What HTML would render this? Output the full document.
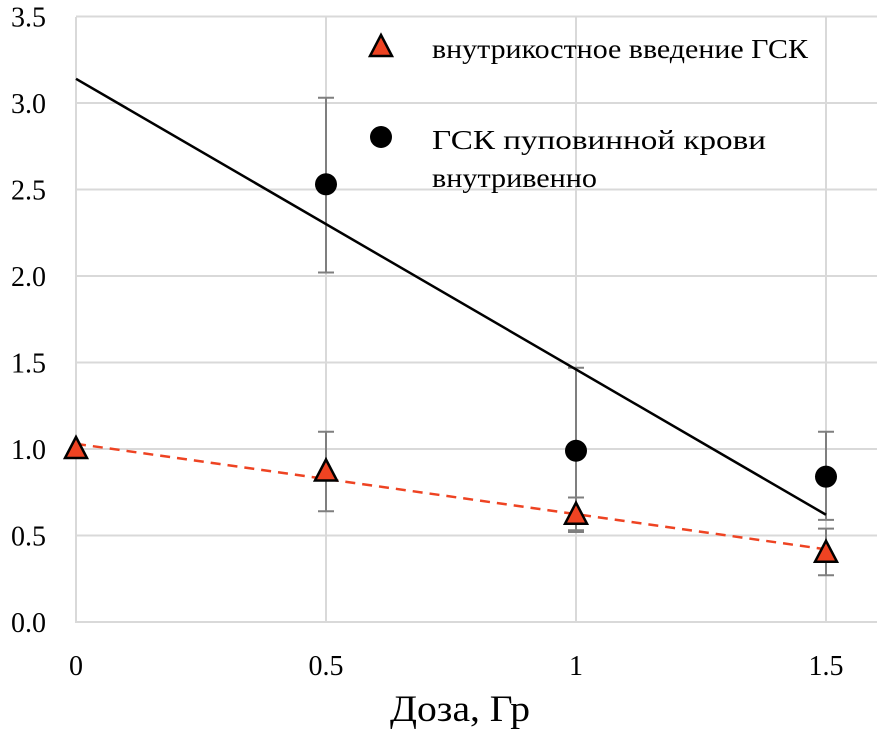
<!DOCTYPE html>
<html><head><meta charset="utf-8"><style>
body{margin:0;background:#fff}
svg{display:block}
text{font-family:"Liberation Serif","DejaVu Serif",serif}
</style></head><body>
<svg id="chart" width="887" height="729"></svg>
<script>
const xTicks=[0,0.5,1,1.5];
const xTickLabels=["0","0.5","1","1.5"];
const yTicks=[0,0.5,1,1.5,2,2.5,3,3.5];
const yTickLabels=["0.0","0.5","1.0","1.5","2.0","2.5","3.0","3.5"];
const circX=[0.5,1,1.5];
const circY=[2.53,0.99,0.84];
const circLo=[2.02,0.52,0.59];
const circHi=[3.03,1.47,1.10];
const triX=[0,0.5,1,1.5];
const triY=[1.0,0.87,0.62,0.40];
const triLo=[1.0,0.64,0.53,0.27];
const triHi=[1.0,1.10,0.72,0.54];
const blackTrend=[3.14,0.62];
const redTrend=[1.03,0.42];
const NS="http://www.w3.org/2000/svg";
const svg=document.getElementById('chart');
const FONT='"Liberation Serif", "DejaVu Serif", serif';
const X=v=>76+v*500;
const Y=v=>622-v*173;
function mk(t,a,parent){const e=document.createElementNS(NS,t);for(const k in a)e.setAttribute(k,a[k]);(parent||svg).appendChild(e);return e;}
yTicks.forEach((v,i)=>{
 if(v>0){const g=mk('line',{x1:76,x2:877,y1:Y(v),y2:Y(v),stroke:'#d9d9d9','stroke-width':2});
 
 }
 const t=mk('text',{x:46,y:Y(v)+10,'font-size':28,'text-anchor':'end',fill:'#000','font-family':FONT});t.textContent=yTickLabels[i];
 
 
});
xTicks.forEach((v,i)=>{
 if(v>0){const g=mk('line',{x1:X(v),x2:X(v),y1:17,y2:622,stroke:'#d9d9d9','stroke-width':2});
 
 }
 const t=mk('text',{x:X(v),y:675,'font-size':28,'text-anchor':'middle',fill:'#000','font-family':FONT});t.textContent=xTickLabels[i];
 
 
});
const ax=mk('path',{d:`M76 17V622H877`,stroke:'#d9d9d9','stroke-width':2,fill:'none'});


function err(xs,lo,hi,name){xs.forEach((x,i)=>{if(lo[i]===hi[i])return;
 const g=mk('path',{d:`M${X(x)} ${Y(lo[i])}V${Y(hi[i])}M${X(x)-8} ${Y(lo[i])}h16M${X(x)-8} ${Y(hi[i])}h16`,stroke:'#7f7f7f','stroke-width':2,fill:'none'});
 
 });}
err(circX,circLo,circHi,'circle-error-bar');
err(triX,triLo,triHi,'triangle-error-bar');
const bt=mk('line',{x1:X(0),y1:Y(blackTrend[0]),x2:X(1.5),y2:Y(blackTrend[1]),stroke:'#000','stroke-width':2.5});


const rt=mk('line',{x1:X(0),y1:Y(redTrend[0]),x2:X(1.5),y2:Y(redTrend[1]),stroke:'#ee4322','stroke-width':2.5,'stroke-dasharray':'10 7'});


circX.forEach((x,i)=>{const c=mk('circle',{cx:X(x),cy:Y(circY[i]),r:11,fill:'#000'});
 
 });
function tri(cx,cy,p){return mk('path',{d:`M${cx} ${cy-12}L${cx+11} ${cy+9}H${cx-11}Z`,fill:'#ee4322',stroke:'#000','stroke-width':2.5},p);}
triX.forEach((x,i)=>{const t=tri(X(x),Y(triY[i]));
 
 });
const lt=tri(381,47);


const lc=mk('circle',{cx:381,cy:137,r:11,fill:'#000'});


function txt(s,x,y,size,name,anchor,len){const a={x:x,y:y,'font-size':size,fill:'#000','text-anchor':anchor||'start','font-family':FONT};
 if(len){a.textLength=len;a.lengthAdjust='spacingAndGlyphs';}
 const t=mk('text',a);t.textContent=s;
 
 return t;}
txt('внутрикостное введение ГСК',432,58,27,'legend-label-triangle','start',376);
txt('ГСК пуповинной крови',432,149,27,'legend-label-circle','start',334);
txt('внутривенно',432,187,27,'legend-label-circle-line2','start',165);
txt('Доза, Гр',460,721,37,'x-axis-title','middle',140);
</script>
</body></html>
